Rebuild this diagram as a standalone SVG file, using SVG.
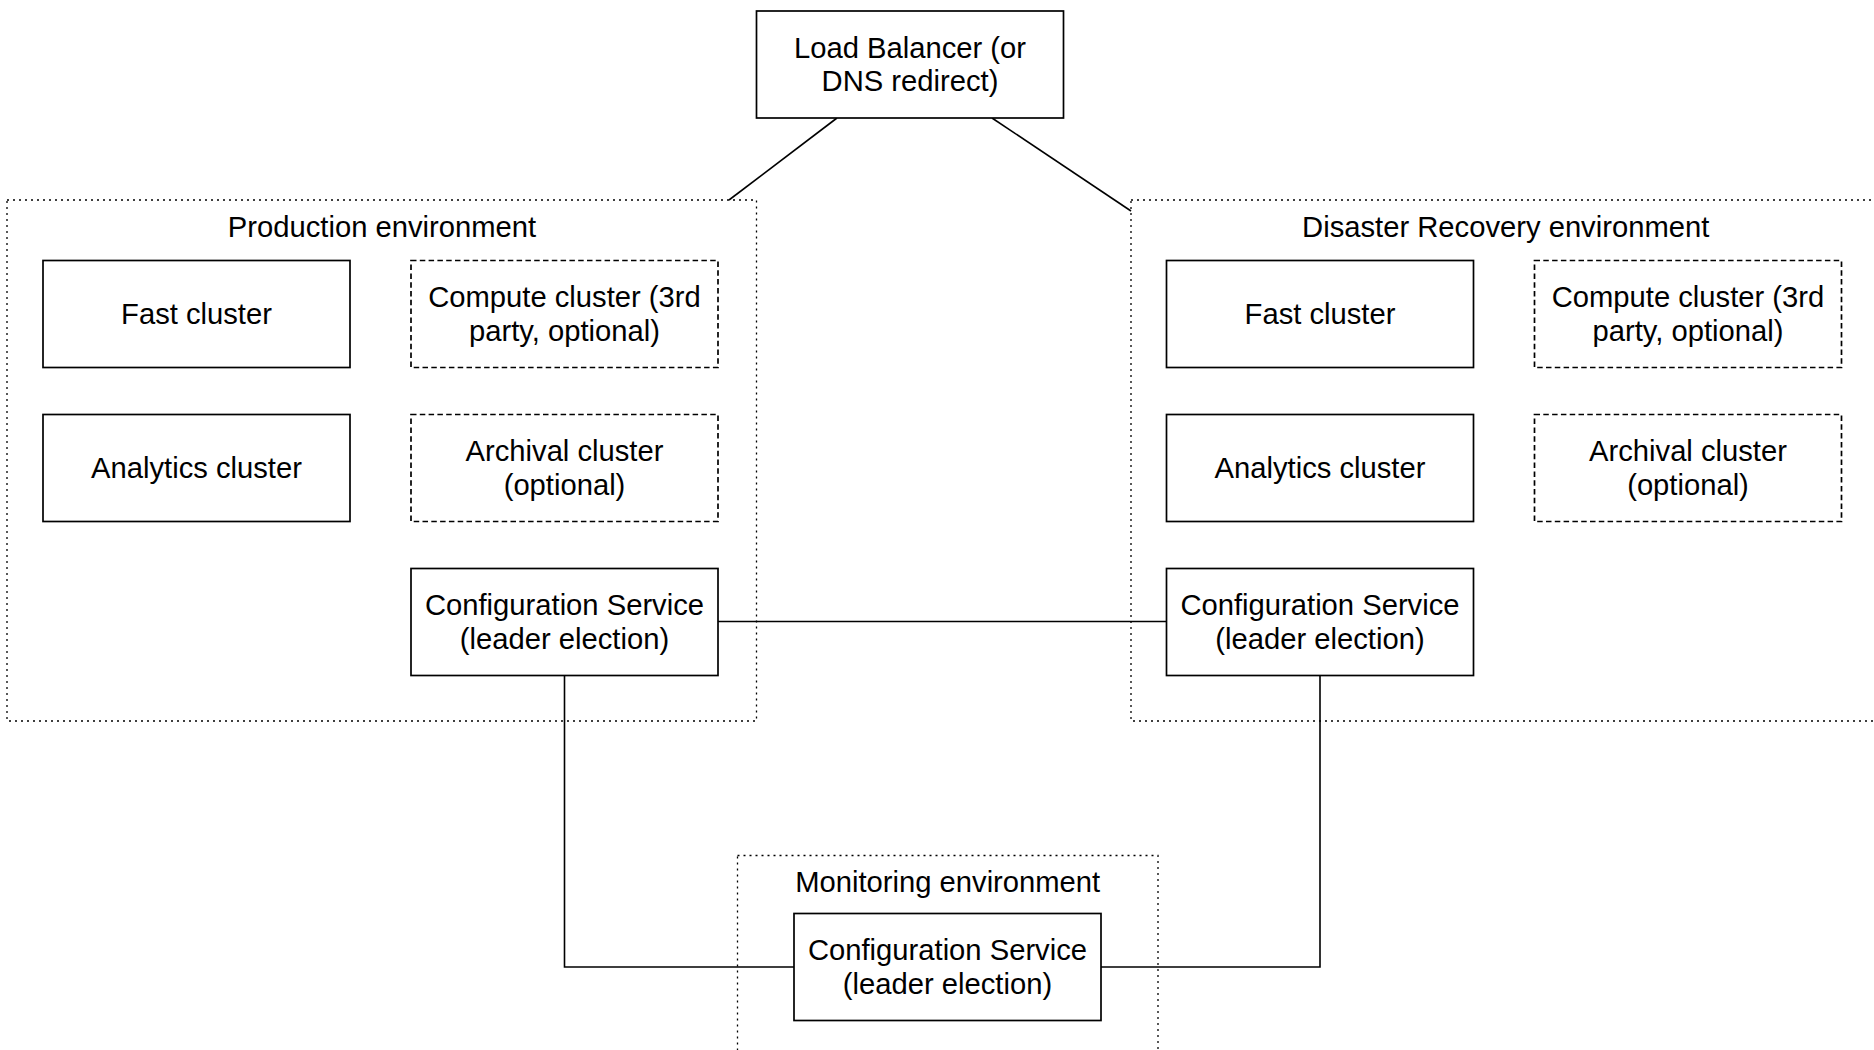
<svg xmlns="http://www.w3.org/2000/svg" width="1874" height="1050" viewBox="0 0 1874 1050">
  <style>
    .box { fill: #ffffff; stroke: #000000; stroke-width: 1.7; }
    .opt { fill: #ffffff; stroke: #000000; stroke-width: 1.7; stroke-dasharray: 5.5 3.3; }
    .env { fill: none; stroke: #000000; stroke-width: 1.3; stroke-dasharray: 2 4; }
    .wire { fill: none; stroke: #000000; stroke-width: 1.6; }
    text { font-family: "Liberation Sans", Arial, Helvetica, sans-serif; font-size: 29.2px; fill: #000000; text-anchor: middle; }
  </style>
  <rect width="1874" height="1050" fill="#ffffff"/>

  <!-- environment containers -->
  <g id="production-environment">
    <rect class="env" x="7" y="200" width="749.5" height="521"/>
    <text x="382" y="237">Production environment</text>
  </g>
  <g id="dr-environment">
    <rect class="env" x="1131" y="200" width="749.5" height="521"/>
    <text x="1505.7" y="237">Disaster Recovery environment</text>
  </g>
  <g id="monitoring-environment">
    <rect class="env" x="737.5" y="855.5" width="420.5" height="220"/>
    <text x="947.7" y="892">Monitoring environment</text>
  </g>

  <!-- connectors -->
  <g id="connectors">
    <line class="wire" x1="837" y1="118" x2="729" y2="200"/>
    <line class="wire" x1="992" y1="118" x2="1131" y2="211"/>
    <line class="wire" x1="718" y1="621.5" x2="1166.5" y2="621.5"/>
    <polyline class="wire" points="564.5,675.5 564.5,967 794,967"/>
    <polyline class="wire" points="1320,675.5 1320,967 1101,967"/>
  </g>

  <!-- load balancer -->
  <g id="load-balancer">
    <rect class="box" x="756.5" y="11" width="307" height="107"/>
    <text x="910" y="57.7">Load Balancer (or</text>
    <text x="910" y="91">DNS redirect)</text>
  </g>

  <!-- production clusters -->
  <g id="prod-fast">
    <rect class="box" x="43" y="260.5" width="307" height="107"/>
    <text x="196.5" y="324">Fast cluster</text>
  </g>
  <g id="prod-compute">
    <rect class="opt" x="411" y="260.5" width="307" height="107"/>
    <text x="564.5" y="307.2">Compute cluster (3rd</text>
    <text x="564.5" y="340.5">party, optional)</text>
  </g>
  <g id="prod-analytics">
    <rect class="box" x="43" y="414.5" width="307" height="107"/>
    <text x="196.5" y="478">Analytics cluster</text>
  </g>
  <g id="prod-archival">
    <rect class="opt" x="411" y="414.5" width="307" height="107"/>
    <text x="564.5" y="461.2">Archival cluster</text>
    <text x="564.5" y="494.5">(optional)</text>
  </g>
  <g id="prod-config">
    <rect class="box" x="411" y="568.5" width="307" height="107"/>
    <text x="564.5" y="615.2">Configuration Service</text>
    <text x="564.5" y="648.5">(leader election)</text>
  </g>

  <!-- disaster recovery clusters -->
  <g id="dr-fast">
    <rect class="box" x="1166.5" y="260.5" width="307" height="107"/>
    <text x="1320" y="324">Fast cluster</text>
  </g>
  <g id="dr-compute">
    <rect class="opt" x="1534.5" y="260.5" width="307" height="107"/>
    <text x="1688" y="307.2">Compute cluster (3rd</text>
    <text x="1688" y="340.5">party, optional)</text>
  </g>
  <g id="dr-analytics">
    <rect class="box" x="1166.5" y="414.5" width="307" height="107"/>
    <text x="1320" y="478">Analytics cluster</text>
  </g>
  <g id="dr-archival">
    <rect class="opt" x="1534.5" y="414.5" width="307" height="107"/>
    <text x="1688" y="461.2">Archival cluster</text>
    <text x="1688" y="494.5">(optional)</text>
  </g>
  <g id="dr-config">
    <rect class="box" x="1166.5" y="568.5" width="307" height="107"/>
    <text x="1320" y="615.2">Configuration Service</text>
    <text x="1320" y="648.5">(leader election)</text>
  </g>

  <!-- monitoring -->
  <g id="monitoring-config">
    <rect class="box" x="794" y="913.5" width="307" height="107"/>
    <text x="947.5" y="960.2">Configuration Service</text>
    <text x="947.5" y="993.5">(leader election)</text>
  </g>
</svg>
